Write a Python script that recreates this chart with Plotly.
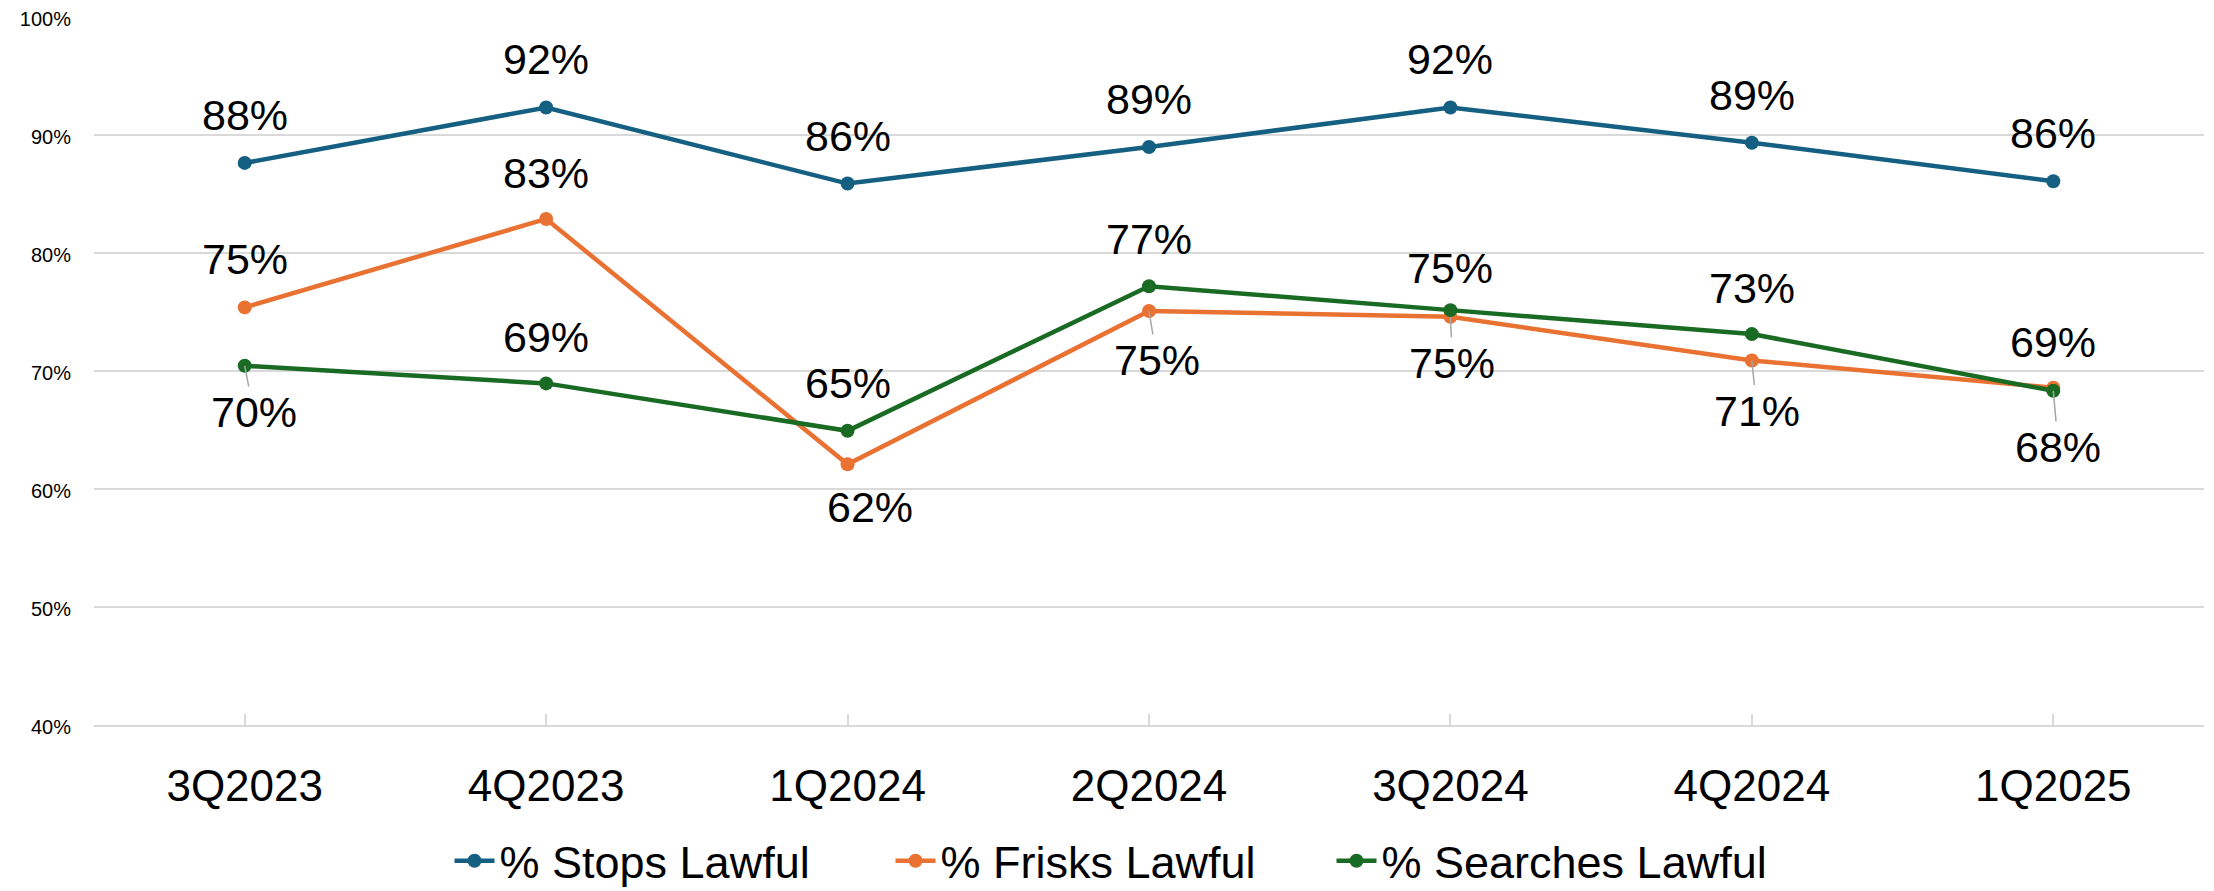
import plotly.graph_objects as go

# ---- data ----
quarters = ["3Q2023", "4Q2023", "1Q2024", "2Q2024", "3Q2024", "4Q2024", "1Q2025"]
stops_lawful = [87.65, 92.35, 85.9, 89.0, 92.35, 89.36, 86.1]
frisks_lawful = [75.4, 82.9, 62.1, 75.1, 74.6, 70.9, 68.6]
searches_lawful = [70.45, 68.96, 64.94, 77.2, 75.17, 73.14, 68.33]
y_ticks = [40, 50, 60, 70, 80, 90, 100]

series_names = ["% Stops Lawful", "% Frisks Lawful", "% Searches Lawful"]
series_values = [stops_lawful, frisks_lawful, searches_lawful]
series_colors = ["#156082", "#E97132", "#196B24"]

# label placement (pixel offsets of label centre from the point, leader flag)
stops_label_pos = [(0, -48, False)] * 7
frisks_label_pos = [(0, -48, False), (0, -46, False), (22, 43, False), (8, 49, True),
                    (2, 46, True), (5, 50, True), (0, -46, False)]
searches_label_pos = [(9, 46, True), (0, -46, False), (0, -48, False), (0, -47, False),
                      (0, -42, False), (0, -46, False), (5, 56, True)]
label_positions = [stops_label_pos, frisks_label_pos, searches_label_pos]

FONT = "Liberation Sans, Arial, sans-serif"

# page body has an 8px margin, so the figure is sized to fit inside the window
W, H = 2206, 883

fig = go.Figure()
for name, vals, col in zip(series_names, series_values, series_colors):
    fig.add_trace(go.Scatter(
        x=quarters, y=vals, name=name, mode="lines+markers",
        line=dict(color=col, width=4.5),
        marker=dict(color=col, size=14),
        hoverinfo="skip",
    ))

annotations = []
for vals, positions in zip(series_values, label_positions):
    for q, v, (dx, dy, leader) in zip(quarters, vals, positions):
        txt = f"{round(v)}%"
        if leader:
            annotations.append(dict(
                x=q, y=v, xref="x", yref="y", text=txt,
                showarrow=True, arrowhead=0, arrowwidth=1.5, arrowcolor="#a6a6a6",
                ax=dx, ay=dy, standoff=0, startstandoff=0,
                font=dict(family=FONT, size=43, color="black"),
            ))
        else:
            annotations.append(dict(
                x=q, y=v, xref="x", yref="y", text=txt, showarrow=False,
                xshift=dx, yshift=-dy, xanchor="center", yanchor="middle",
                font=dict(family=FONT, size=43, color="black"),
            ))

fig.update_layout(
    width=W, height=H,
    margin=dict(l=86, r=10, t=9, b=166, autoexpand=False),
    paper_bgcolor="white", plot_bgcolor="white",
    font=dict(family=FONT, color="black"),
    showlegend=True,
    legend=dict(
        orientation="h", xref="container", yref="container",
        x=0.5, xanchor="center", y=1 - 817 / H, yanchor="top",
        font=dict(family=FONT, size=45, color="black"),
        itemwidth=40, tracegroupgap=0,
        entrywidth=386, entrywidthmode="pixels",
        bgcolor="rgba(0,0,0,0)",
    ),
    annotations=annotations,
    xaxis=dict(
        type="category", range=[-0.5, 6.5],
        showgrid=False, showline=True, linecolor="#d9d9d9", linewidth=1.5,
        ticks="inside", ticklen=11, tickcolor="#d9d9d9", tickwidth=1.5,
        tickfont=dict(family=FONT, size=44, color="black"),
        ticklabelstandoff=21,
        zeroline=False,
    ),
    yaxis=dict(
        range=[40, 100.02], tickvals=y_ticks,
        ticktext=[f"{t}%" for t in y_ticks],
        showgrid=True, gridcolor="#d9d9d9", gridwidth=1.5,
        zeroline=False, showline=False, ticks="",
        tickfont=dict(family=FONT, size=20, color="black"),
        ticklabelstandoff=22, ticklabeloverflow="allow",
        ticklabelshift=2,
    ),
)

fig.write_html("out.html")
